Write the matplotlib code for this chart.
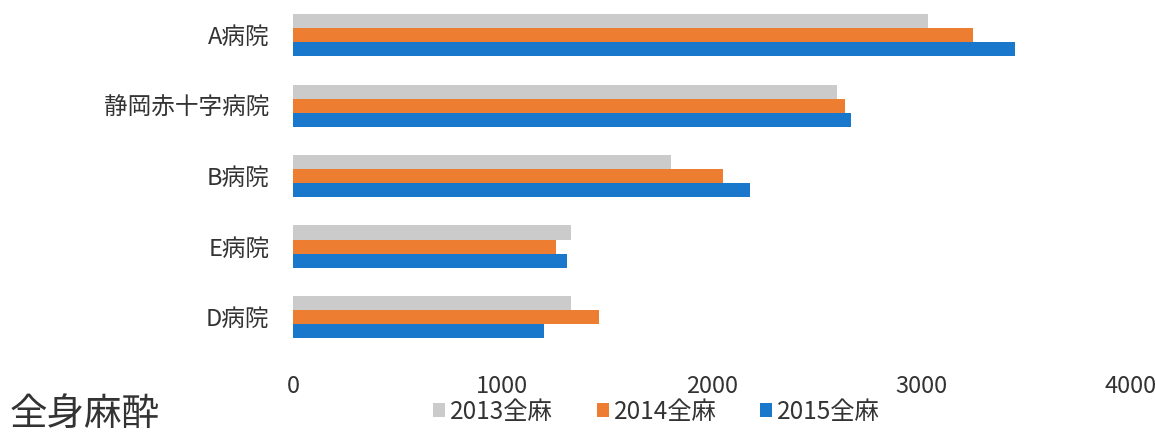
import numpy as np
import matplotlib.pyplot as plt

plt.rcParams['font.family'] = ['Noto Sans CJK JP', 'DejaVu Sans']
plt.rcParams['figure.dpi'] = 100

hospitals = ['A病院', '静岡赤十字病院', 'B病院', 'E病院', 'D病院']
series = ['2013全麻', '2014全麻', '2015全麻']
v2013 = [3034, 2599, 1806, 1328, 1328]
v2014 = [3249, 2637, 2054, 1257, 1462]
v2015 = [3450, 2666, 2183, 1309, 1199]
colors = ['#cbcbcb', '#ed7d31', '#1a78cc']

fig = plt.figure(figsize=(11.56, 4.36))
ax = fig.add_axes([0.2535, 0.197, 0.7245, 0.803])

y = np.arange(len(hospitals))
h = 0.2
for k, (vals, lab, c) in enumerate(zip([v2013, v2014, v2015], series, colors)):
    ax.barh(y + (k - 1) * h, vals, height=h, color=c, label=lab)

ax.set_xlim(0, 4000)
ax.set_xticks([0, 1000, 2000, 3000, 4000])
ax.set_ylim(4.47, -0.5)
ax.set_yticks(y)
ax.set_yticklabels(hospitals, fontsize=17, color='#333333')
for s in ax.spines.values():
    s.set_visible(False)
ax.tick_params(axis='y', length=0, pad=17)
ax.tick_params(axis='x', length=0, pad=18, labelsize=17, labelcolor='#333333')

fig.legend(loc='center', bbox_to_anchor=(0.568, 0.055), ncol=3, frameon=False,
           fontsize=17.5, handlelength=0.5, handleheight=0.5, handletextpad=0.2,
           columnspacing=1.8, labelcolor='#333333')
fig.text(0.008, 0.05, '全身麻酔', fontsize=27, va='center', color='#333333')

fig.savefig('out.png')
